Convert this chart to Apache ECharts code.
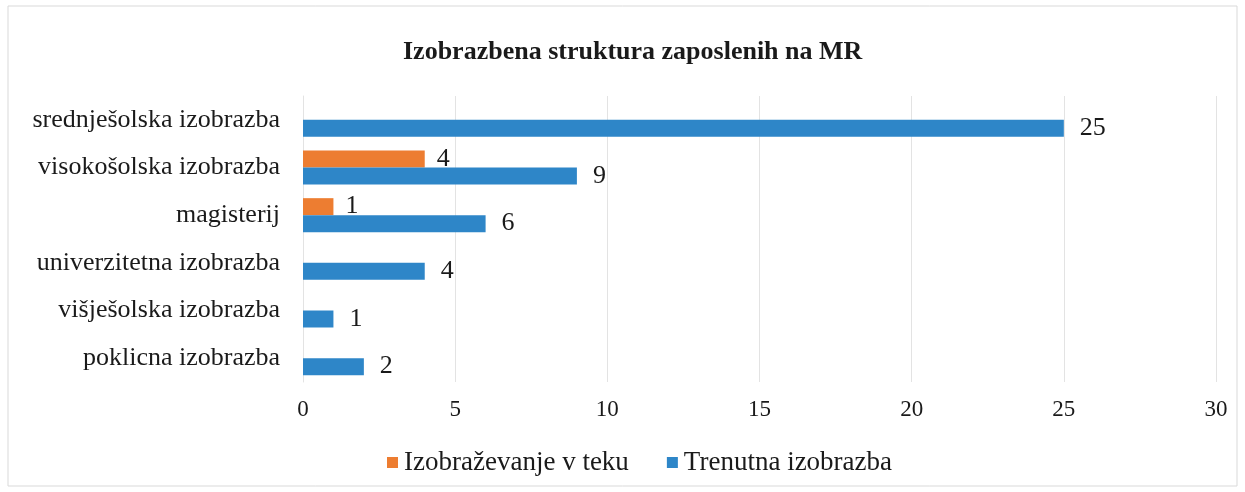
<!DOCTYPE html>
<html lang="sl">
<head>
    <meta charset="UTF-8">
    <title>Izobrazbena struktura zaposlenih na MR</title>
    <script src="https://cdn.jsdelivr.net/npm/echarts@6/dist/echarts.min.js"></script>
    <style>
        html, body { margin: 0; padding: 0; background: #fff; }
        #main { width: 1245px; height: 492px; }
    </style>
</head>
<body>
    <div id="main"></div>
    <script>
        // podatki (od spodaj navzgor)
        var categories = ['poklicna izobrazba', 'višješolska izobrazba', 'univerzitetna izobrazba',
            'magisterij', 'visokošolska izobrazba', 'srednješolska izobrazba'];
        var vTeku = [null, null, null, 1, 4, null];
        var trenutna = [2, 1, 4, 6, 9, 25];
        var seriesNames = ['Izobraževanje v teku', 'Trenutna izobrazba'];

        var font = '"Liberation Serif", "Times New Roman", serif';
        var chart = echarts.init(document.getElementById('main'));

        chart.setOption({
            animation: false,
            textStyle: { fontFamily: font },
            graphic: [{
                type: 'rect',
                shape: { x: 8, y: 6, width: 1229, height: 480 },
                style: { fill: 'none', stroke: '#d9d9d9', lineWidth: 1 }
            }],
            title: {
                text: 'Izobrazbena struktura zaposlenih na MR',
                left: 398,
                top: 34,
                textStyle: { fontFamily: font, fontSize: 26, fontWeight: 'bold', color: '#1a1a1a' }
            },
            legend: {
                data: seriesNames,
                top: 444,
                left: 382,
                itemWidth: 11,
                itemHeight: 11,
                itemGap: 38,
                icon: 'rect',
                textStyle: { fontFamily: font, fontSize: 27, color: '#1a1a1a', padding: [0, 0, 0, 1] }
            },
            grid: { left: 303, right: 29, top: 96, bottom: 110 },
            xAxis: {
                type: 'value',
                min: 0,
                max: 30,
                interval: 5,
                axisLine: { show: false },
                axisTick: { show: false },
                axisLabel: { fontFamily: font, fontSize: 23, color: '#1a1a1a', margin: 16 },
                splitLine: { lineStyle: { color: '#e3e3e3' } }
            },
            yAxis: {
                type: 'category',
                data: categories,
                axisLine: { lineStyle: { color: '#e3e3e3' } },
                axisTick: { show: false },
                axisLabel: { fontFamily: font, fontSize: 26, color: '#1a1a1a', margin: 23 }
            },
            series: [{
                name: seriesNames[0],
                type: 'bar',
                data: vTeku,
                barWidth: 17,
                barGap: '0%',
                itemStyle: { color: '#ed7d31' },
                label: { show: true, position: 'right', distance: 12, fontFamily: font, fontSize: 26, color: '#1a1a1a' }
            }, {
                name: seriesNames[1],
                type: 'bar',
                data: trenutna,
                barWidth: 17,
                barGap: '0%',
                itemStyle: { color: '#2e86c8' },
                label: { show: true, position: 'right', distance: 16, fontFamily: font, fontSize: 26, color: '#1a1a1a' }
            }]
        });
    </script>
</body>
</html>
